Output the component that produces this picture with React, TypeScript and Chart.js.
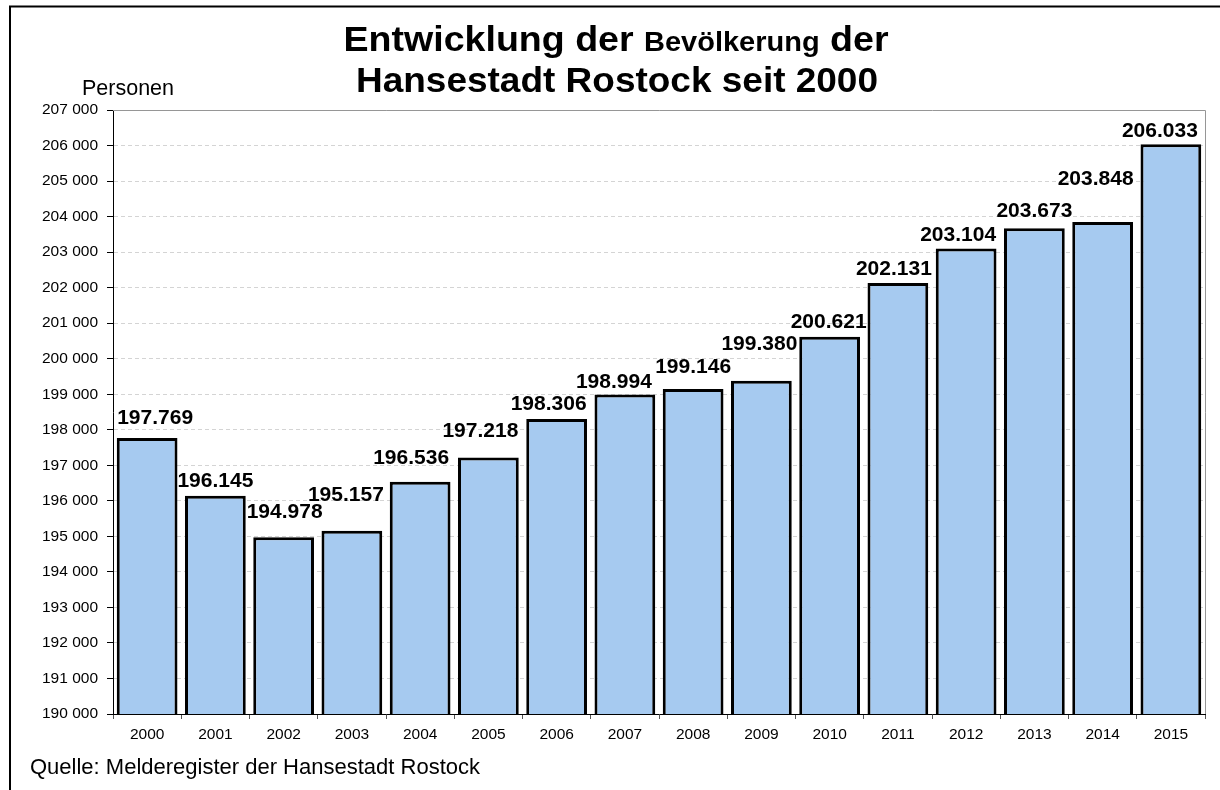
import React, { useEffect, useRef } from "react";
import { Chart, registerables } from "chart.js";

Chart.register(...registerables);

// ---- data ----
const years: string[] = [
  "2000", "2001", "2002", "2003", "2004", "2005", "2006", "2007",
  "2008", "2009", "2010", "2011", "2012", "2013", "2014", "2015",
];
const population: number[] = [
  197769, 196145, 194978, 195157, 196536, 197218, 198306, 198994,
  199146, 199380, 200621, 202131, 203104, 203673, 203848, 206033,
];
const yMin = 190000;
const yMax = 207000;
const yStep = 1000;

const titleLine1Parts: { text: string; big: boolean }[] = [
  { text: "Entwicklung der ", big: true },
  { text: "Bevölkerung", big: false },
  { text: " der", big: true },
];
const titleLine2 = "Hansestadt Rostock seit 2000";
const yAxisTitle = "Personen";
const sourceNote = "Quelle: Melderegister der Hansestadt Rostock";

// label nudges (style only: pixel shifts of the value labels, as in the original)
const labelDx: number[] = [8, 0, 1, -6, -9, -8, -8, -11, 0, -2, -1, -4, -8, 0, -7, -11];
const labelGap: number[] = [21, 16, 27, 37, 25, 28, 16, 14, 24, 38, 16, 15, 15, 19, 44, 15];

const FONT = 'Arial, "Liberation Sans", Helvetica, sans-serif';

function fmtThousands(v: number, sep: string): string {
  const s = Math.round(v).toString();
  const out: string[] = [];
  for (let i = s.length; i > 0; i -= 3) {
    out.unshift(s.substring(Math.max(0, i - 3), i));
  }
  return out.join(sep);
}

const decorPlugin = {
  id: "decor",
  afterDraw(chart: any) {
    const { ctx, chartArea } = chart;
    ctx.save();
    // outer frame (left and top)
    ctx.strokeStyle = "#000";
    ctx.lineWidth = 2;
    ctx.beginPath();
    ctx.moveTo(10, 790);
    ctx.lineTo(10, 6.5);
    ctx.lineTo(1220, 6.5);
    ctx.stroke();

    // plot top + right border (gray, solid)
    ctx.strokeStyle = "#969696";
    ctx.lineWidth = 1;
    ctx.beginPath();
    const top = Math.round(chartArea.top) + 0.5;
    const right = Math.round(chartArea.right) + 0.5;
    ctx.moveTo(Math.round(chartArea.left), top);
    ctx.lineTo(right, top);
    ctx.lineTo(right, Math.round(chartArea.bottom));
    ctx.stroke();

    ctx.fillStyle = "#000";
    // title line 1 (mixed sizes)
    const bigSize = 35;
    const smallSize = 27;
    let w1 = 0;
    const widths: number[] = [];
    for (const p of titleLine1Parts) {
      ctx.font = `bold ${p.big ? bigSize : smallSize}px ${FONT}`;
      const w = ctx.measureText(p.text).width;
      widths.push(w);
      w1 += w;
    }
    const target1 = 545;
    const sx1 = target1 / w1;
    ctx.save();
    ctx.translate(616 - target1 / 2, 51);
    ctx.scale(sx1, 1);
    ctx.textAlign = "left";
    ctx.textBaseline = "alphabetic";
    let xx = 0;
    titleLine1Parts.forEach((p, i) => {
      ctx.font = `bold ${p.big ? bigSize : smallSize}px ${FONT}`;
      ctx.fillText(p.text, xx, 0);
      xx += widths[i];
    });
    ctx.restore();

    // title line 2
    ctx.font = `bold ${bigSize}px ${FONT}`;
    const w2 = ctx.measureText(titleLine2).width;
    const target2 = 522;
    ctx.save();
    ctx.translate(617 - target2 / 2, 92);
    ctx.scale(target2 / w2, 1);
    ctx.textAlign = "left";
    ctx.fillText(titleLine2, 0, 0);
    ctx.restore();

    // axis title
    ctx.font = `21.5px ${FONT}`;
    ctx.textAlign = "left";
    ctx.textBaseline = "alphabetic";
    ctx.fillText(yAxisTitle, 82, 95);

    // source
    ctx.font = `22px ${FONT}`;
    ctx.fillText(sourceNote, 30, 774);
    ctx.restore();
  },
};

const valueLabelPlugin = {
  id: "valueLabels",
  afterDatasetsDraw(chart: any) {
    const { ctx } = chart;
    const meta = chart.getDatasetMeta(0);
    ctx.save();
    ctx.font = `bold 21px ${FONT}`;
    ctx.fillStyle = "#000";
    ctx.textAlign = "center";
    ctx.textBaseline = "alphabetic";
    meta.data.forEach((el: any, i: number) => {
      const v = population[i];
      const txt = fmtThousands(v, ".");
      ctx.fillText(txt, el.x + labelDx[i], el.y - labelGap[i] + 7.5);
    });
    ctx.restore();
  },
};

export default function App() {
  const canvasRef = useRef<HTMLCanvasElement | null>(null);

  useEffect(() => {
    const canvas = canvasRef.current;
    if (!canvas) return;
    const chart = new Chart(canvas, {
      type: "bar",
      data: {
        labels: years,
        datasets: [
          {
            data: population,
            backgroundColor: "#A6CAF0",
            borderColor: "#000000",
            borderWidth: 3,
            borderSkipped: false,
            barPercentage: 0.89,
            categoryPercentage: 1,
          },
        ],
      },
      options: {
        responsive: false,
        animation: false,
        devicePixelRatio: 1,
        layout: { padding: { left: 0, right: 15, top: 110, bottom: 0 } },
        plugins: {
          legend: { display: false },
          tooltip: { enabled: false },
          title: { display: false },
        },
        scales: {
          x: {
            offset: true,
            grid: {
              offset: true,
              drawOnChartArea: false,
              drawTicks: true,
              tickLength: 5,
              tickColor: "#555",
              color: "#555",
            },
            border: { display: true, color: "#000", width: 1 },
            ticks: {
              color: "#000",
              font: { family: FONT, size: 15.5 },
              padding: 6,
              maxRotation: 0,
              autoSkip: false,
            },
            afterFit: (scale: any) => {
              scale.height = 76;
            },
          },
          y: {
            min: yMin,
            max: yMax,
            grid: {
              color: "#d4d4d4",
              lineWidth: 1,
              drawTicks: true,
              tickLength: 6,
              tickColor: "#000",
              tickWidth: 1,
            },
            border: { display: true, color: "#000", width: 1, dash: [4, 3] },
            ticks: {
              stepSize: yStep,
              color: "#000",
              font: { family: FONT, size: 15.5 },
              padding: 9,
              callback: (v: any) => fmtThousands(Number(v), " "),
            },
            afterFit: (scale: any) => {
              scale.width = 113;
            },
          },
        },
      },
      plugins: [valueLabelPlugin, decorPlugin],
    } as any);
    return () => chart.destroy();
  }, []);

  return (
    <div style={{ position: "absolute", left: 0, top: 0, width: 1220, height: 790, background: "#fff" }}>
      <canvas ref={canvasRef} width={1220} height={790} style={{ display: "block" }} />
    </div>
  );
}
